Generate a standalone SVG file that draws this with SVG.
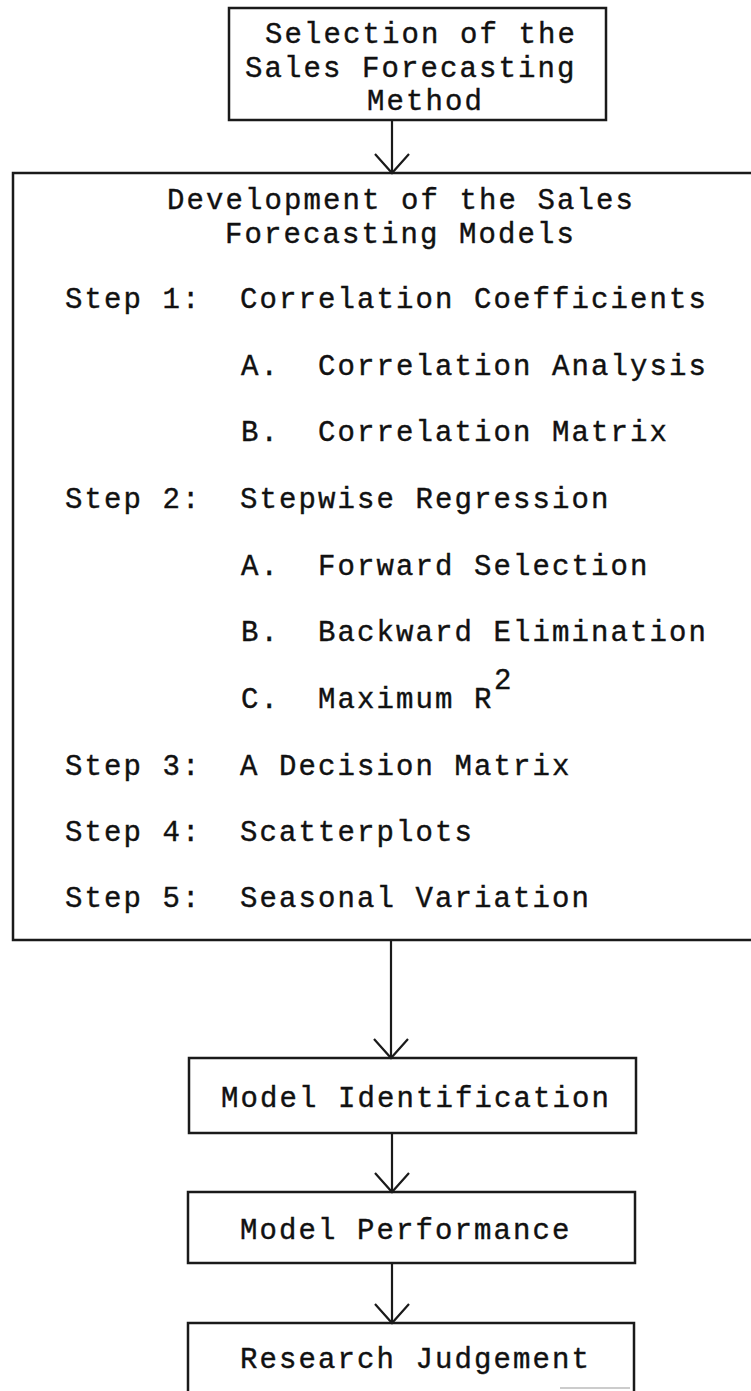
<svg xmlns="http://www.w3.org/2000/svg" width="751" height="1391" viewBox="0 0 751 1391">
<style>
.t{font-family:"Liberation Mono","Courier New",monospace;font-size:29px;letter-spacing:2.1px;fill:#111;stroke:#111;stroke-width:0.4px}
.box{fill:none;stroke:#1a1a1a;stroke-width:2.5}
.ln{fill:none;stroke:#1a1a1a;stroke-width:2.2}
</style>
<defs>
<marker id="arr" markerWidth="40" markerHeight="40" refX="20" refY="20" orient="auto" markerUnits="userSpaceOnUse">
<path d="M1,3 L20,20 L1,37" fill="none" stroke="#1a1a1a" stroke-width="2.2"/>
</marker>
</defs>
<rect width="751" height="1391" fill="#fff"/>

<g id="connectors">
<line class="ln" x1="392" y1="120" x2="392" y2="173" marker-end="url(#arr)"/>
<line class="ln" x1="391" y1="940" x2="391" y2="1058" marker-end="url(#arr)"/>
<line class="ln" x1="392" y1="1133" x2="392" y2="1192" marker-end="url(#arr)"/>
<line class="ln" x1="392" y1="1263" x2="392" y2="1323" marker-end="url(#arr)"/>
</g>

<g id="selection">
<rect class="box" x="229" y="8" width="377" height="112"/>
<text class="t" x="265" y="43">Selection of the</text>
<text class="t" x="245" y="77">Sales Forecasting</text>
<text class="t" x="367" y="110">Method</text>
</g>

<g id="development">
<path class="box" d="M753,173 H13 V940 H753"/>
<text class="t" x="167" y="209">Development of the Sales</text>
<text class="t" x="225" y="243">Forecasting Models</text>
<text class="t" x="65" y="308">Step 1:</text>
<text class="t" x="240" y="308">Correlation Coefficients</text>
<text class="t" x="241" y="375">A.</text>
<text class="t" x="318" y="375">Correlation Analysis</text>
<text class="t" x="241" y="441">B.</text>
<text class="t" x="318" y="441">Correlation Matrix</text>
<text class="t" x="65" y="508">Step 2:</text>
<text class="t" x="240" y="508">Stepwise Regression</text>
<text class="t" x="241" y="575">A.</text>
<text class="t" x="318" y="575">Forward Selection</text>
<text class="t" x="241" y="641">B.</text>
<text class="t" x="318" y="641">Backward Elimination</text>
<text class="t" x="241" y="708">C.</text>
<text class="t" x="318" y="708">Maximum R</text>
<text class="t" x="494" y="689">2</text>
<text class="t" x="65" y="775">Step 3:</text>
<text class="t" x="240" y="775">A Decision Matrix</text>
<text class="t" x="65" y="841">Step 4:</text>
<text class="t" x="240" y="841">Scatterplots</text>
<text class="t" x="65" y="907">Step 5:</text>
<text class="t" x="240" y="907">Seasonal Variation</text>
</g>

<g id="identification">
<rect class="box" x="189" y="1058" width="447" height="75"/>
<text class="t" x="221" y="1107">Model Identification</text>
</g>

<g id="performance">
<rect class="box" x="188" y="1192" width="447" height="71"/>
<text class="t" x="240" y="1239">Model Performance</text>
</g>

<g id="judgement">
<path class="box" d="M188,1395 V1323 H634 V1395"/>
<line x1="560" y1="1388" x2="630" y2="1388" stroke="#bbb" stroke-width="1.5"/>
<text class="t" x="240" y="1368">Research Judgement</text>
</g>
</svg>
